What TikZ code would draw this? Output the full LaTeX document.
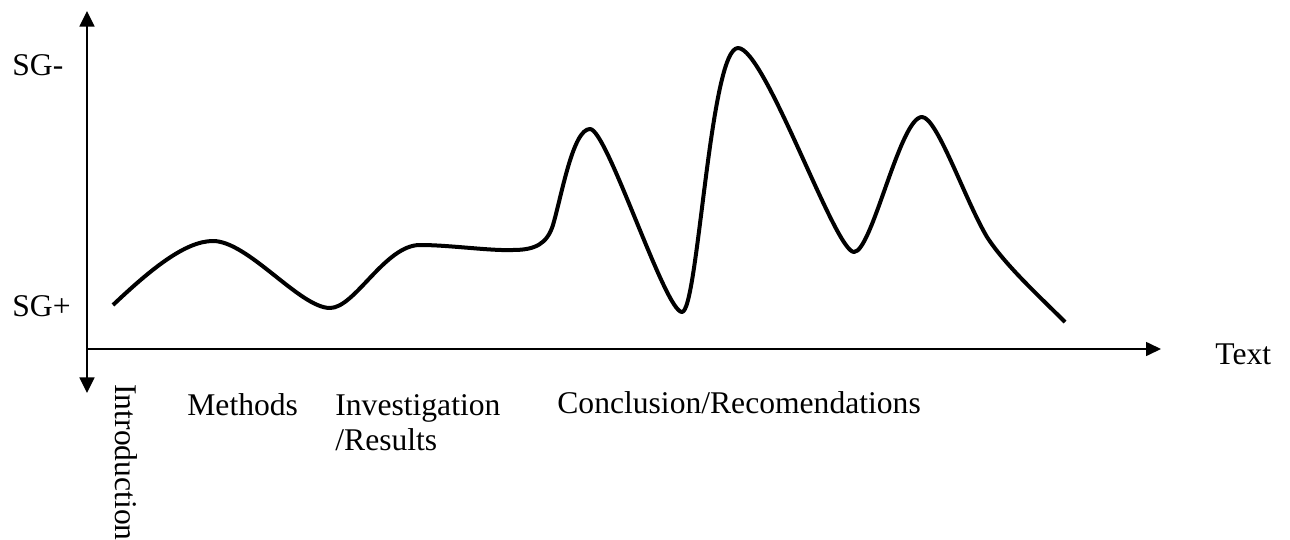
\documentclass[tikz,border=0pt]{standalone}
\usepackage{fontspec}
\setmainfont{Liberation Serif}
\usetikzlibrary{arrows.meta}
\tikzset{
  axis/.style={line width=0.8pt, {Triangle[length=7.8pt,width=7.5pt]}-{Triangle[length=7.8pt,width=7.5pt]}},
  axisx/.style={line width=0.8pt, -{Triangle[length=7.5pt,width=7pt]}},
  wave/.style={line width=2pt, line join=round},
  lbl/.style={inner sep=0pt, anchor=base west, font=\fontsize{15.8pt}{17pt}\selectfont}
}
\begin{document}
\begin{tikzpicture}[x=0.5pt, y=-0.5pt]
  \path[use as bounding box] (0,0) rectangle (1290,540);

  % axes
  \coordinate (ytop) at (87,11);
  \coordinate (ybot) at (87,393);
  \coordinate (xorig) at (87,349);
  \coordinate (xend) at (1161,349);
  \draw[axis] (ybot) -- (ytop);
  \draw[axisx] (xorig) -- (xend);

  % axis labels
  \node[lbl] (sgminus) at (12,76) {SG-};
  \node[lbl] (sgplus) at (12,316) {SG+};
  \node[lbl] (textlbl) at (1215,364) {Text};

  % section labels
  \node[lbl, rotate=-90] (intro) at (115,384) {Introduction};
  \node[lbl] (methods) at (187,415) {Methods};
  \node[lbl] (invest) at (335,415) {Investigation};
  \node[lbl] (results) at (335,450) {/Results};
  \node[lbl] (concl) at (557,413) {Conclusion/Recomendations};

  % the wave
  \draw[wave]
    (113,305) .. controls (150,270) and (185,241) .. (213,241)
    .. controls (248,241) and (300,308) .. (330,308)
    .. controls (355,308) and (385,245) .. (420,245)
    .. controls (450,245) and (490,251) .. (513,250)
    .. controls (535,250) and (547,244) .. (553,225)
    .. controls (562,194) and (573,129) .. (590,129)
    .. controls (607,129) and (665,312) .. (682,312)
    .. controls (698,312) and (710,48) .. (738,48)
    .. controls (765,48) and (835,252) .. (854,252)
    .. controls (872,252) and (900,117) .. (922,117)
    .. controls (937,117) and (965,200) .. (987,237)
    .. controls (1005,265) and (1040,297) .. (1065,322);
\end{tikzpicture}
\end{document}
